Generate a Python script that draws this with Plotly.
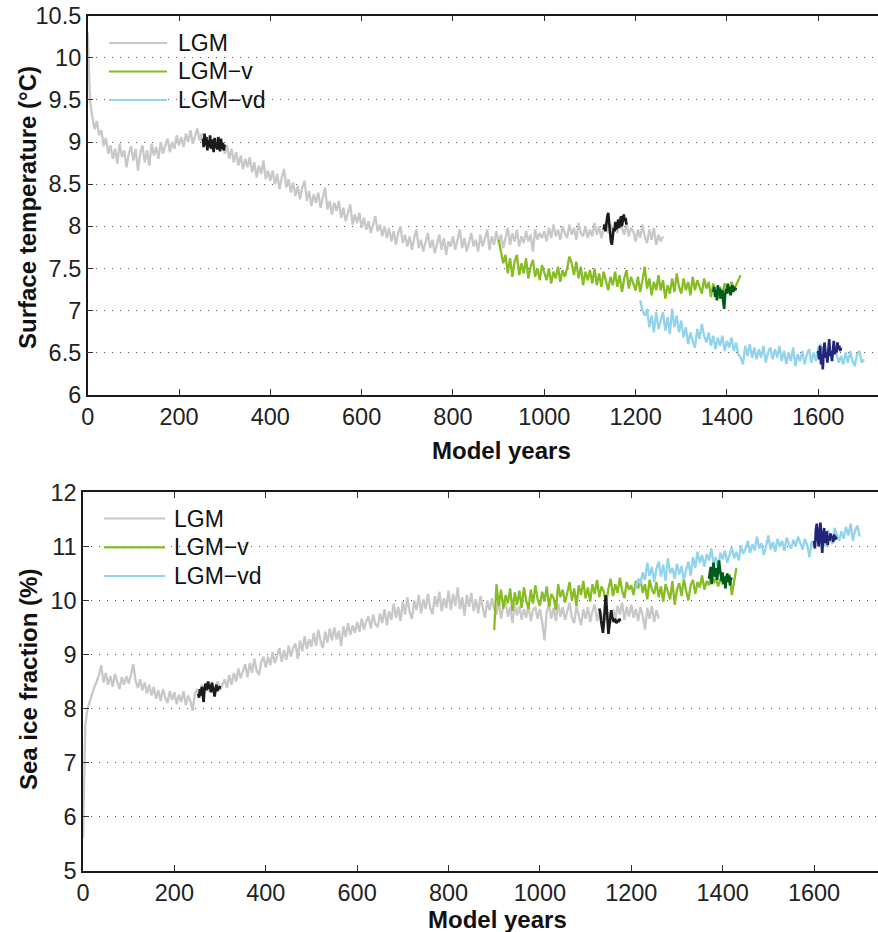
import plotly.graph_objects as go

W, H = 878, 932

# ---------------- data: surface temperature (°C) ----------------
temp_lgm_start, temp_lgm_step = 0, 5
temp_lgm = [
    10.30, 9.50, 9.30, 9.15, 9.25, 9.08, 9.14, 8.95, 9.05, 8.86,
    8.96, 8.80, 8.92, 8.74, 8.98, 8.82, 8.90, 8.70, 8.86, 8.95,
    8.78, 8.92, 8.66, 8.86, 8.96, 8.76, 8.90, 8.72, 8.98, 8.84,
    8.94, 8.80, 9.00, 8.86, 8.96, 9.04, 8.88, 9.00, 8.92, 9.08,
    8.96, 9.06, 8.94, 9.10, 9.00, 9.14, 8.98, 9.08, 9.16, 9.02,
    9.10, 8.98, 9.06, 8.94, 9.02, 8.90, 9.04, 8.96, 8.92, 9.00,
    8.86, 8.96, 8.80, 8.92, 8.76, 8.88, 8.72, 8.84, 8.68, 8.80,
    8.70, 8.82, 8.64, 8.76, 8.58, 8.72, 8.62, 8.78, 8.56, 8.66,
    8.54, 8.66, 8.50, 8.62, 8.44, 8.58, 8.68, 8.46, 8.56, 8.40,
    8.52, 8.36, 8.48, 8.32, 8.46, 8.54, 8.30, 8.42, 8.24, 8.38,
    8.28, 8.40, 8.22, 8.34, 8.46, 8.20, 8.30, 8.14, 8.28, 8.18,
    8.30, 8.10, 8.22, 8.06, 8.18, 8.26, 8.02, 8.14, 8.04, 8.16,
    7.98, 8.10, 7.96, 8.06, 7.92, 8.04, 8.12, 7.94, 8.02, 7.88,
    8.00, 7.86, 7.98, 7.82, 7.94, 7.78, 7.92, 8.00, 7.80, 7.90,
    7.76, 7.88, 7.72, 7.86, 7.96, 7.74, 7.84, 7.70, 7.82, 7.92,
    7.74, 7.84, 7.68, 7.80, 7.90, 7.72, 7.86, 7.66, 7.82, 7.76,
    7.88, 7.72, 7.84, 7.96, 7.74, 7.86, 7.70, 7.82, 7.92, 7.76,
    7.84, 7.70, 7.90, 7.76, 7.86, 7.96, 7.72, 7.88, 7.78, 7.94,
    7.80, 7.90, 7.74, 7.86, 7.98, 7.78, 7.92, 7.82, 7.96, 7.76,
    7.88, 7.80, 7.94, 7.82, 7.90, 7.70, 7.96, 7.84, 7.92, 7.86,
    7.94, 7.82, 7.98, 7.86, 8.02, 7.88, 7.96, 7.84, 8.00, 7.92,
    7.86, 8.02, 7.90, 7.98, 7.84, 8.04, 7.92, 7.88, 8.00, 7.86,
    7.96, 7.88, 8.04, 7.90, 8.00, 7.86, 7.98, 8.06, 7.92, 8.02,
    7.96, 8.06, 7.92, 8.10, 7.98, 7.90, 8.04, 7.88, 7.98, 7.94,
    7.82, 7.96, 7.86, 8.02, 7.88, 7.80, 7.96, 7.84, 7.98, 7.78,
    7.90, 7.82, 7.88,
]
temp_v_start, temp_v_step = 900, 5
temp_v = [
    7.84, 7.70, 7.56, 7.66, 7.44, 7.62, 7.40, 7.58, 7.66, 7.42,
    7.56, 7.44, 7.62, 7.38, 7.52, 7.60, 7.40, 7.50, 7.36, 7.54,
    7.44, 7.36, 7.50, 7.32, 7.46, 7.38, 7.52, 7.34, 7.48, 7.40,
    7.50, 7.64, 7.56, 7.42, 7.58, 7.38, 7.52, 7.30, 7.46, 7.36,
    7.48, 7.32, 7.50, 7.30, 7.44, 7.28, 7.46, 7.36, 7.24, 7.40,
    7.30, 7.46, 7.28, 7.42, 7.22, 7.38, 7.48, 7.26, 7.40, 7.32,
    7.24, 7.40, 7.22, 7.36, 7.52, 7.26, 7.38, 7.18, 7.34, 7.24,
    7.42, 7.24, 7.36, 7.14, 7.30, 7.20, 7.38, 7.22, 7.44, 7.28,
    7.20, 7.38, 7.24, 7.34, 7.18, 7.40, 7.24, 7.36, 7.28, 7.20,
    7.38, 7.26, 7.34, 7.16, 7.32, 7.22, 7.14, 7.28, 7.20, 7.32,
    7.26, 7.20, 7.34, 7.24, 7.30, 7.36, 7.42,
]
temp_vd_start, temp_vd_step = 1210, 5
temp_vd = [
    7.12, 7.00, 6.94, 7.02, 6.80, 6.94, 6.74, 6.98, 6.78, 6.88,
    6.98, 6.76, 6.92, 6.72, 7.02, 6.80, 6.94, 6.74, 6.88, 6.68,
    6.80, 6.60, 6.74, 6.64, 6.56, 6.78, 6.66, 6.84, 6.70, 6.62,
    6.74, 6.58, 6.70, 6.54, 6.68, 6.58, 6.70, 6.52, 6.64, 6.56,
    6.68, 6.52, 6.62, 6.48, 6.44, 6.36, 6.58, 6.46, 6.60, 6.44,
    6.56, 6.42, 6.54, 6.44, 6.58, 6.38, 6.50, 6.56, 6.42, 6.54,
    6.44, 6.58, 6.40, 6.52, 6.36, 6.50, 6.40, 6.56, 6.34, 6.48,
    6.40, 6.52, 6.36, 6.48, 6.54, 6.38, 6.50, 6.40, 6.56, 6.60,
    6.46, 6.56, 6.42, 6.52, 6.44, 6.58, 6.48, 6.38, 6.46, 6.36,
    6.50, 6.38, 6.52, 6.40, 6.34, 6.48, 6.52, 6.38, 6.42,
]
# highlighted (analysis) windows, step 2 years
temp_lgm_w1_start = 252
temp_lgm_w1 = [9.04, 8.94, 9.10, 8.96, 9.06, 8.90, 9.02, 8.94, 9.08, 8.92,
               9.03, 8.95, 8.88, 9.05, 8.93, 9.00, 8.91, 9.06, 8.94, 8.89,
               9.04, 8.92, 8.99, 8.90, 8.97]
temp_lgm_w2_start = 1130
temp_lgm_w2 = [7.96, 8.02, 7.94, 8.06, 8.12, 8.16, 8.04, 7.92, 7.82, 7.78,
               7.90, 7.98, 7.94, 8.05, 7.96, 8.02, 8.08, 7.98, 8.04, 8.12,
               8.00, 8.08, 8.14, 8.06, 8.10, 8.02]
temp_v_w_start = 1370
temp_v_w = [7.22, 7.28, 7.16, 7.24, 7.12, 7.30, 7.18, 7.26, 7.14, 7.20,
            7.24, 7.10, 7.02, 7.18, 7.26, 7.20, 7.32, 7.22, 7.28, 7.18,
            7.26, 7.30, 7.22, 7.28, 7.24, 7.27]
temp_vd_w_start = 1600
temp_vd_w = [6.52, 6.42, 6.58, 6.36, 6.48, 6.30, 6.55, 6.62, 6.44, 6.50,
             6.38, 6.60, 6.66, 6.46, 6.52, 6.40, 6.58, 6.64, 6.48, 6.56,
             6.50, 6.62, 6.54, 6.58, 6.52, 6.56]

# ---------------- data: sea ice fraction (%) ----------------
ice_lgm_start, ice_lgm_step = 0, 5
ice_lgm = [
    5.60, 7.70, 8.00, 8.15, 8.28, 8.40, 8.50, 8.62, 8.80, 8.48,
    8.66, 8.44, 8.60, 8.40, 8.64, 8.50, 8.36, 8.58, 8.44, 8.60,
    8.46, 8.62, 8.82, 8.52, 8.38, 8.54, 8.34, 8.48, 8.28, 8.44,
    8.24, 8.40, 8.18, 8.34, 8.14, 8.36, 8.20, 8.10, 8.32, 8.16,
    8.30, 8.08, 8.26, 8.12, 8.32, 8.06, 8.24, 8.14, 7.96, 8.28,
    8.36, 8.24, 8.44, 8.28, 8.48, 8.32, 8.44, 8.30, 8.40, 8.50,
    8.34, 8.46, 8.54, 8.38, 8.62, 8.44, 8.66, 8.50, 8.74, 8.56,
    8.70, 8.82, 8.58, 8.84, 8.66, 8.92, 8.70, 8.62, 8.86, 8.96,
    8.76, 8.96, 8.80, 9.04, 8.84, 9.00, 9.12, 8.86, 9.08, 8.90,
    9.16, 8.96, 9.12, 9.20, 8.92, 9.26, 9.06, 9.34, 9.10, 9.28,
    9.14, 9.40, 9.16, 9.46, 9.24, 9.12, 9.42, 9.22, 9.48, 9.26,
    9.50, 9.28, 9.44, 9.16, 9.52, 9.32, 9.58, 9.36, 9.54, 9.40,
    9.60, 9.42, 9.66, 9.46, 9.62, 9.70, 9.48, 9.74, 9.56, 9.50,
    9.76, 9.58, 9.84, 9.54, 9.80, 9.64, 9.94, 9.68, 9.88, 9.62,
    9.98, 9.74, 10.06, 9.78, 9.66, 10.00, 9.82, 10.10, 9.76, 10.02,
    9.84, 10.12, 9.86, 9.74, 10.08, 9.88, 10.16, 9.80, 10.04, 9.86,
    10.18, 9.82, 10.12, 9.90, 10.24, 9.84, 10.06, 9.72, 10.10, 9.88,
    10.14, 9.80, 10.02, 9.76, 10.08, 9.86, 9.68, 10.00, 9.82, 10.04,
    9.84, 9.74, 10.00, 9.66, 9.90, 9.96, 9.70, 9.88, 9.58, 9.94,
    9.72, 9.90, 9.64, 9.84, 9.68, 9.92, 9.62, 9.82, 9.88, 9.66,
    9.84, 9.60, 9.26, 9.80, 9.92, 9.66, 9.86, 9.62, 9.94, 9.70,
    9.88, 9.64, 9.82, 9.96, 9.68, 9.58, 9.90, 9.72, 9.54, 9.84,
    9.66, 9.88, 9.60, 9.80, 9.92, 9.62, 9.82, 9.56, 9.76, 9.64,
    9.78, 9.58, 9.84, 9.66, 9.90, 9.74, 9.96, 9.64, 9.88, 9.70,
    9.92, 9.68, 9.84, 9.62, 9.88, 9.72, 9.46, 9.86, 9.66, 9.90,
    9.60, 9.82, 9.66,
]
ice_v_start, ice_v_step = 900, 5
ice_v = [
    9.45, 10.30, 9.90, 10.20, 9.85, 10.10, 9.95, 10.22, 9.80, 10.15,
    9.92, 10.18, 9.86, 10.24, 10.00, 9.84, 10.20, 9.94, 10.28, 10.02,
    9.90, 10.16, 9.98, 10.26, 9.88, 10.12, 10.04, 9.82, 10.30, 10.06,
    10.20, 9.96, 10.14, 10.34, 10.00, 10.22, 9.90, 10.28, 10.10, 10.36,
    10.04, 10.24, 9.98, 10.30, 10.12, 10.38, 10.06, 10.26, 10.16, 9.94,
    10.22, 10.40, 10.08, 10.30, 10.14, 10.42, 10.18, 10.04, 10.34, 10.20,
    10.28, 10.10, 10.36, 10.22, 10.40, 10.14, 10.30, 10.02, 10.38, 10.20,
    10.12, 10.34, 10.06, 10.26, 9.98, 10.30, 10.16, 10.02, 10.36, 9.92,
    10.20, 10.32, 10.08, 10.40, 10.18, 10.00, 10.28, 10.38, 10.12, 10.34,
    10.24, 10.46, 10.20, 10.36, 10.28, 10.50, 10.32, 10.42, 10.26, 10.40,
    10.30, 10.44, 10.36, 10.48, 10.10, 10.38, 10.60,
]
ice_vd_start, ice_vd_step = 1210, 5
ice_vd = [
    10.22, 10.40, 10.30, 10.52, 10.38, 10.70, 10.45, 10.62, 10.34, 10.58,
    10.72, 10.44, 10.66, 10.36, 10.78, 10.50, 10.60, 10.40, 10.68, 10.48,
    10.64, 10.38, 10.56, 10.72, 10.46, 10.80, 10.60, 10.90, 10.70, 10.84,
    10.62, 10.86, 10.74, 10.96, 10.68, 10.80, 10.58, 10.88, 10.76, 10.92,
    10.70, 10.84, 10.98, 10.78, 10.90, 10.74, 11.02, 10.86, 10.96, 11.10,
    10.88, 11.04, 10.92, 11.18, 10.96, 11.06, 10.84, 11.00, 11.20, 10.94,
    11.08, 10.90, 11.14, 11.00, 11.10, 10.92, 11.16, 11.04, 10.96, 11.12,
    11.00, 11.18, 11.06, 10.94, 11.14, 11.02, 10.80, 11.10, 10.98, 11.20,
    11.08, 11.26, 11.12, 11.00, 11.30, 11.16, 11.04, 11.34, 11.20, 11.10,
    11.28, 11.14, 11.36, 11.20, 11.42, 11.10, 11.30, 11.38, 11.18,
]
ice_lgm_w1_start = 252
ice_lgm_w1 = [8.28, 8.20, 8.36, 8.24, 8.40, 8.30, 8.12, 8.38, 8.46, 8.34,
              8.42, 8.50, 8.36, 8.44, 8.30, 8.48, 8.40, 8.34, 8.22, 8.38,
              8.44, 8.32, 8.40, 8.36, 8.42]
ice_lgm_w2_start = 1130
ice_lgm_w2 = [9.85, 9.78, 9.62, 9.45, 9.40, 9.58, 9.86, 10.10, 9.90, 9.60,
              9.38, 9.52, 9.76, 9.82, 9.70, 9.64, 9.60, 9.66, 9.62, 9.58,
              9.64, 9.60, 9.66, 9.62]
ice_v_w_start = 1370
ice_v_w = [10.40, 10.55, 10.62, 10.30, 10.48, 10.70, 10.52, 10.44, 10.60, 10.38,
           10.56, 10.74, 10.58, 10.46, 10.36, 10.52, 10.30, 10.44, 10.22, 10.40,
           10.50, 10.34, 10.46, 10.28, 10.42, 10.38]
ice_vd_w_start = 1600
ice_vd_w = [11.10, 10.96, 11.30, 11.42, 11.18, 11.00, 11.26, 11.44, 11.12, 10.88,
            11.20, 11.34, 11.06, 11.16, 11.28, 11.02, 11.20, 11.10, 11.24, 11.14,
            11.18, 11.08, 11.22, 11.12, 11.16, 11.14]

series_names = ["LGM", "LGM\u2212v", "LGM\u2212vd"]
x_ticks = [0, 200, 400, 600, 800, 1000, 1200, 1400, 1600]

# ---------------- styling ----------------
C_LGM, C_V, C_VD = "#c8c8c8", "#86bd24", "#92d3ed"
C_LGM_W, C_V_W, C_VD_W = "#1b1b1b", "#005a1c", "#23237a"
FONT = "Liberation Sans, Arial, sans-serif"
LW, LW_WIN = 2.3, 2.6


def years(start, step, vals):
    return [start + step * i for i in range(len(vals))]


fig = go.Figure()


def add(xa, ya, start, step, vals, color, width):
    fig.add_trace(go.Scatter(x=years(start, step, vals), y=vals, mode="lines",
                             line=dict(color=color, width=width),
                             xaxis=xa, yaxis=ya, showlegend=False,
                             hoverinfo="skip"))


# top panel
add("x", "y", temp_lgm_start, temp_lgm_step, temp_lgm, C_LGM, LW)
add("x", "y", temp_v_start, temp_v_step, temp_v, C_V, LW)
add("x", "y", temp_vd_start, temp_vd_step, temp_vd, C_VD, LW)
add("x", "y", temp_lgm_w1_start, 2, temp_lgm_w1, C_LGM_W, LW_WIN)
add("x", "y", temp_lgm_w2_start, 2, temp_lgm_w2, C_LGM_W, LW_WIN)
add("x", "y", temp_v_w_start, 2, temp_v_w, C_V_W, LW_WIN)
add("x", "y", temp_vd_w_start, 2, temp_vd_w, C_VD_W, LW_WIN)
# bottom panel
add("x2", "y2", ice_lgm_start, ice_lgm_step, ice_lgm, C_LGM, LW)
add("x2", "y2", ice_v_start, ice_v_step, ice_v, C_V, LW)
add("x2", "y2", ice_vd_start, ice_vd_step, ice_vd, C_VD, LW)
add("x2", "y2", ice_lgm_w1_start, 2, ice_lgm_w1, C_LGM_W, LW_WIN)
add("x2", "y2", ice_lgm_w2_start, 2, ice_lgm_w2, C_LGM_W, LW_WIN)
add("x2", "y2", ice_v_w_start, 2, ice_v_w, C_V_W, LW_WIN)
add("x2", "y2", ice_vd_w_start, 2, ice_vd_w, C_VD_W, LW_WIN)

# pixel geometry
T_L, T_T, T_B = 87.7, 15.7, 394.7
B_L, B_T, B_B = 83.0, 492.3, 870.7

common_x = dict(showline=True, linecolor="#1a1a1a", linewidth=1.5, mirror="ticks",
                ticks="inside", ticklen=6, tickwidth=1, tickcolor="#333",
                tickvals=x_ticks, showgrid=False, zeroline=False, automargin=False,
                tickfont=dict(family=FONT, size=23.5, color="#222"))
common_y = dict(showline=True, linecolor="#1a1a1a", linewidth=1.5, mirror=False,
                ticks="inside", ticklen=6, tickwidth=1, tickcolor="#333",
                showgrid=True, gridcolor="#555", gridwidth=1, griddash="1px,7px",
                zeroline=False, automargin=False,
                tickfont=dict(family=FONT, size=23.5, color="#222"))

fig.update_layout(
    template="none",
    width=W, height=H, autosize=False, margin=dict(l=0, r=0, t=0, b=0, pad=0),
    paper_bgcolor="white", plot_bgcolor="white", showlegend=False,
    xaxis=dict(domain=[T_L / W, 1], range=[0, (W - T_L) / 0.4566],
               anchor="y", **common_x),
    yaxis=dict(domain=[1 - T_B / H, 1 - T_T / H], range=[6, 10.5], dtick=0.5,
               tick0=6, anchor="x", **common_y),
    xaxis2=dict(domain=[B_L / W, 1], range=[0, (W - B_L) / 0.4569],
                anchor="y2", **common_x),
    yaxis2=dict(domain=[1 - B_B / H, 1 - B_T / H], range=[5, 12], dtick=1,
                tick0=5, anchor="x2", **common_y),
)

ann = []
shapes = []
# axis titles
title_font = dict(family=FONT, size=24, color="#111")
ann.append(dict(text="<b>Model years</b>", x=501 / W, y=1 - 450 / H, xref="paper",
                yref="paper", showarrow=False, font=title_font,
                xanchor="center", yanchor="middle"))
ann.append(dict(text="<b>Model years</b>", x=497.5 / W, y=1 - 919 / H, xref="paper",
                yref="paper", showarrow=False, font=title_font,
                xanchor="center", yanchor="middle"))
ann.append(dict(text="<b>Surface temperature (\u00b0C)</b>", x=27 / W,
                y=1 - 208 / H, xref="paper", yref="paper", showarrow=False,
                font=title_font, textangle=-90, xanchor="center", yanchor="middle"))
ann.append(dict(text="<b>Sea ice fraction (%)</b>", x=28 / W, y=1 - 680 / H,
                xref="paper", yref="paper", showarrow=False, font=title_font,
                textangle=-90, xanchor="center", yanchor="middle"))

# manual legends (white box hides gridlines, as in the original)
legend_colors = [C_LGM, C_V, C_VD]
for (box, lx0, lx1, tx, ys) in [
    ((92, 18, 272, 114), 109, 167, 176, [43, 71.5, 100]),
    ((88, 494, 268, 590), 104, 165, 171.5, [518.5, 547.3, 576]),
]:
    shapes.append(dict(type="rect", xref="paper", yref="paper",
                       x0=box[0] / W, x1=box[2] / W, y0=1 - box[3] / H,
                       y1=1 - box[1] / H, fillcolor="white", line=dict(width=0),
                       layer="between"))
    for name, col, yy in zip(series_names, legend_colors, ys):
        shapes.append(dict(type="line", xref="paper", yref="paper",
                           x0=lx0 / W, x1=lx1 / W, y0=1 - yy / H, y1=1 - yy / H,
                           line=dict(color=col, width=2.2), layer="above"))
        ann.append(dict(text=name, x=tx / W, y=1 - yy / H, xref="paper",
                        yref="paper", showarrow=False, xanchor="left",
                        yanchor="middle",
                        font=dict(family=FONT, size=23, color="#111")))

fig.update_layout(annotations=ann, shapes=shapes)
fig.write_html("out.html")
